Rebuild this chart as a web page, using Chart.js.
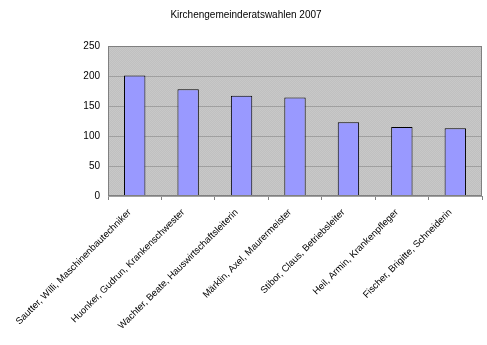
<!DOCTYPE html>
<html>
<head>
<meta charset="utf-8">
<script src="https://cdn.jsdelivr.net/npm/chart.js@4/dist/chart.umd.min.js"></script>
<style>
  html, body { margin: 0; padding: 0; background: #fff; }
  #wrap { width: 487px; height: 345px; }
</style>
</head>
<body>
<div id="wrap"><canvas id="chart"></canvas></div>
<script>
const chartTitle = "Kirchengemeinderatswahlen 2007";
const candidates = [
    "Sautter, Willi, Maschinenbautechniker",
    "Huonker, Gudrun, Krankenschwester",
    "Wachter, Beate, Hauswirtschaftsleiterin",
    "Märklin, Axel, Maurermeister",
    "Stibor, Claus, Betriebsleiter",
    "Heil, Armin, Krankenpfleger",
    "Fischer, Brigitte, Schneiderin"
];
const votes = [201, 178, 167, 164, 123, 115, 113];
const yTicks = [0, 50, 100, 150, 200, 250];

// light grey dotted plot background
function makePattern(ctx) {
    const c = document.createElement("canvas");
    c.width = 2; c.height = 2;
    const p = c.getContext("2d");
    p.fillStyle = "#c0c0c0"; p.fillRect(0, 0, 2, 2);
    p.fillStyle = "#c8c8c8"; p.fillRect(0, 0, 1, 1); p.fillRect(1, 1, 1, 1);
    return ctx.createPattern(c, "repeat");
}

const plotArea = {
    id: "plotArea",
    beforeDraw(chart) {
        const { ctx, chartArea: a } = chart;
        ctx.save();
        ctx.fillStyle = makePattern(ctx);
        ctx.fillRect(a.left, a.top, a.right - a.left, a.bottom - a.top);
        ctx.restore();
    },
    afterDatasetsDraw(chart) {
        const { ctx, chartArea: a } = chart;
        ctx.save();
        ctx.strokeStyle = "#808080";
        ctx.lineWidth = 1;
        ctx.strokeRect(a.left + 0.5, a.top + 0.5, a.right - a.left - 1, a.bottom - a.top - 1);
        ctx.restore();
    },
    // title sits centred on the page, not over the plot box
    afterDraw(chart) {
        const ctx = chart.ctx;
        ctx.save();
        ctx.fillStyle = "#000";
        ctx.font = "10px 'Liberation Sans'";
        ctx.textAlign = "center";
        ctx.textBaseline = "middle";
        ctx.fillText(chartTitle, 246, 15);
        ctx.restore();
    }
};

new Chart(document.getElementById("chart").getContext("2d"), {
    type: "bar",
    data: {
        labels: candidates,
        datasets: [{
            data: votes,
            backgroundColor: "#9999ff",
            borderColor: "#000000",
            borderWidth: 1,
            categoryPercentage: 1,
            barPercentage: 0.4
        }]
    },
    options: {
        responsive: true,
        maintainAspectRatio: false,
        animation: false,
        layout: { padding: { left: 0, right: 5, top: 46, bottom: 0 } },
        plugins: {
            legend: { display: false },
            tooltip: { enabled: false },
            title: { display: false }
        },
        scales: {
            x: {
                grid: {
                    offset: true,
                    drawOnChartArea: false,
                    drawTicks: true,
                    tickLength: 4,
                    color: "#808080"
                },
                border: { display: false },
                ticks: {
                    autoSkip: false,
                    maxRotation: 45,
                    minRotation: 45,
                    padding: 7,
                    labelOffset: -5,
                    color: "#000",
                    font: { family: "Liberation Sans", size: 9.5 }
                },
                afterFit(scale) { scale.height = 149; }
            },
            y: {
                min: 0,
                max: 250,
                afterBuildTicks(scale) { scale.ticks = yTicks.map(v => ({ value: v })); },
                grid: { color: "#a0a0a0", drawTicks: false },
                border: { display: false },
                ticks: {
                    padding: 8,
                    color: "#000",
                    font: { family: "Liberation Sans", size: 10 }
                },
                afterFit(scale) { scale.width = 108; }
            }
        }
    },
    plugins: [plotArea]
});
</script>
</body>
</html>
